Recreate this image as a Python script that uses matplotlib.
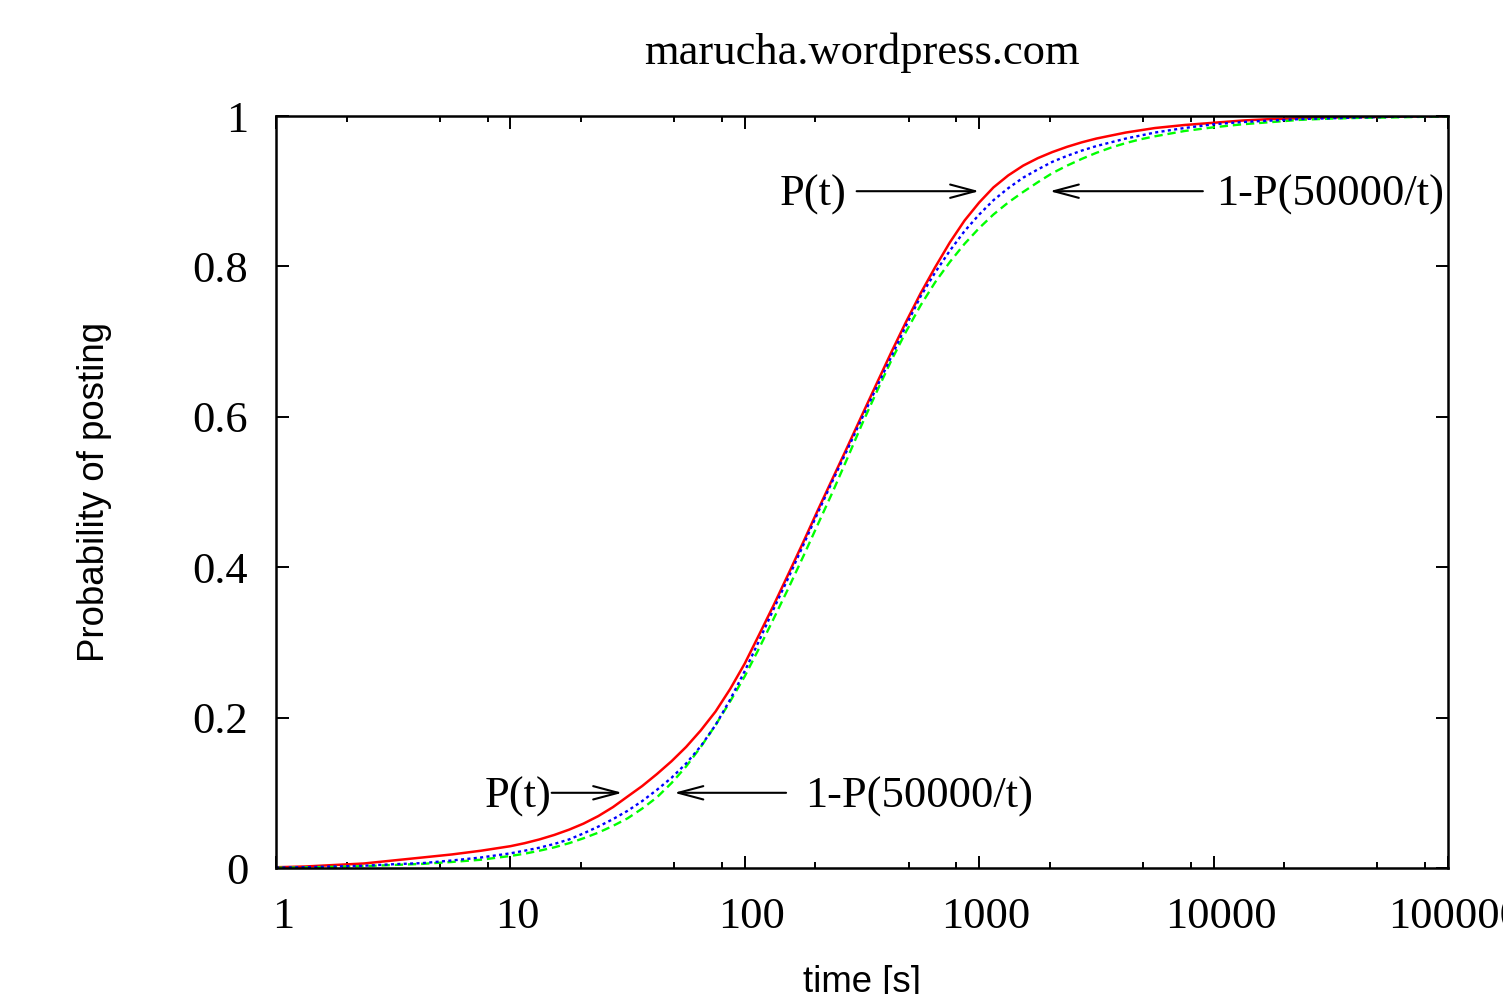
import matplotlib
matplotlib.use("Agg")
import matplotlib.pyplot as plt
import matplotlib.transforms as mtransforms
from matplotlib.ticker import FixedLocator, NullFormatter, NullLocator

# ---- data -------------------------------------------------------------
# sample times [s]
t_s = [1, 1.33, 1.78, 2.37, 3.16, 4.22, 5.62, 7.5,
       10, 11.5, 13.3, 15.4, 17.8, 20.5, 23.7, 27.4,
       31.6, 36.5, 42.2, 48.7, 56.2, 64.9, 75, 86.6,
       100, 115, 133, 154, 178, 205, 237, 274,
       316, 365, 422, 487, 562, 649, 750, 866,
       1000, 1150, 1330, 1540, 1780, 2050, 2370, 2740,
       3160, 3650, 4220, 4870, 5620,
       7500,
       10000, 13300, 17800, 23700, 31600, 42200, 56200, 75000, 100000]

# P(t)
p_red = [0.001, 0.002, 0.004, 0.006, 0.010, 0.014, 0.018, 0.023,
         0.029, 0.033, 0.038, 0.044, 0.051, 0.059, 0.069, 0.081,
         0.095, 0.109, 0.125, 0.142, 0.161, 0.183, 0.208, 0.238,
         0.272, 0.310, 0.350, 0.392, 0.434, 0.476, 0.518, 0.560,
         0.602, 0.644, 0.686, 0.726, 0.764, 0.799, 0.832, 0.861,
         0.885, 0.905, 0.921, 0.934, 0.944, 0.952, 0.959, 0.965,
         0.970, 0.974, 0.978, 0.981, 0.984,
         0.988,
         0.991, 0.994, 0.996, 0.997, 0.998, 0.9985, 0.999, 0.9995, 1.000]

# dotted curve
p_blue = [0.0005, 0.001, 0.002, 0.003, 0.005, 0.0065, 0.010, 0.014,
          0.0195, 0.023, 0.027, 0.032, 0.038, 0.046, 0.055, 0.065,
          0.076, 0.089, 0.104, 0.120, 0.139, 0.162, 0.190, 0.224,
          0.262, 0.302, 0.345, 0.387, 0.430, 0.4725, 0.515, 0.5565,
          0.598, 0.639, 0.680, 0.721, 0.760, 0.792, 0.821, 0.847,
          0.869, 0.888, 0.904, 0.918, 0.929, 0.939, 0.947, 0.954,
          0.960, 0.965, 0.970, 0.974, 0.978,
          0.984,
          0.989, 0.992, 0.994, 0.996, 0.997, 0.998, 0.9988, 0.9994, 1.000]

# 1-P(50000/t)
p_green = [0.0003, 0.0008, 0.0015, 0.0025, 0.004, 0.0055, 0.008, 0.011,
           0.016, 0.019, 0.023, 0.0275, 0.033, 0.0395, 0.047, 0.056,
           0.066, 0.079, 0.094, 0.113, 0.135, 0.161, 0.190, 0.2215,
           0.255, 0.292, 0.332, 0.373, 0.415, 0.457, 0.500, 0.545,
           0.590, 0.633, 0.675, 0.713, 0.748, 0.779, 0.806, 0.830,
           0.851, 0.869, 0.885, 0.899, 0.912, 0.924, 0.934, 0.943,
           0.951, 0.958, 0.964, 0.969, 0.973,
           0.980,
           0.985, 0.989, 0.992, 0.995, 0.9965, 0.9975, 0.998, 0.9988, 0.9993]

x_major = [1, 10, 100, 1000, 10000, 100000]
x_labels = ["1", "10", "100", "1000", "10000", "100000"]
x_minor = [m * 10 ** k for k in range(5) for m in (2, 5, 8)]
y_major = [0, 0.2, 0.4, 0.6, 0.8, 1.0]
y_labels = ["0", "0.2", "0.4", "0.6", "0.8", "1"]

# ---- figure -----------------------------------------------------------
DPI = 100
plt.rcParams["lines.scale_dashes"] = False
fig = plt.figure(figsize=(15.03, 9.94), dpi=DPI)
ax = fig.add_axes([276 / 1503, 1 - 868 / 994, (1448 - 276) / 1503, (868 - 116) / 994])

serif = ["Liberation Serif", "DejaVu Serif"]
sans = ["Liberation Sans", "DejaVu Sans"]
FS = 32

ax.plot(t_s, p_red, color="#ff0000", lw=1.8)
ax.plot(t_s, p_green, color="#00ff00", lw=1.7, dashes=(6, 3.5))
ax.plot(t_s, p_blue, color="#0000ff", lw=1.7, dashes=(2.2, 2.4))

ax.set_xscale("log")
ax.set_xlim(1, 100000)
ax.set_ylim(0, 1)

ax.xaxis.set_major_locator(FixedLocator(x_major))
ax.xaxis.set_minor_locator(FixedLocator(x_minor))
ax.xaxis.set_minor_formatter(NullFormatter())
ax.set_xticklabels(x_labels, family=serif, fontsize=FS)
ax.yaxis.set_major_locator(FixedLocator(y_major))
ax.yaxis.set_minor_locator(NullLocator())
ax.set_yticklabels(y_labels, family=serif, fontsize=FS)

ax.tick_params(which="both", direction="in", top=True, right=True, width=1.4)
ax.tick_params(which="major", length=9)
ax.tick_params(which="minor", length=4.5)
ax.tick_params(axis="x", which="major", pad=21)
ax.tick_params(axis="y", which="major", pad=20)

shift = mtransforms.ScaledTranslation(7 / DPI, 0, fig.dpi_scale_trans)
for lab in ax.get_xticklabels():
    lab.set_transform(lab.get_transform() + shift)

for sp in ax.spines.values():
    sp.set_linewidth(1.8)

# ---- labels -----------------------------------------------------------
fig.text(862 / 1503, 1 - 53 / 994, "marucha.wordpress.com", family=serif,
         fontsize=FS, ha="center", va="center")
fig.text(95 / 1503, 1 - 492 / 994, "Probability of posting", family=sans,
         fontsize=26.4, rotation=90, ha="center", va="center")
fig.text(862 / 1503, 1 - 982 / 994, "time [s]", family=sans,
         fontsize=26.4, ha="center", va="center")

# ---- annotations ------------------------------------------------------
arrow_kw = dict(arrowstyle="->,head_length=0.9,head_width=0.24",
                color="black", lw=1.5, mutation_scale=20,
                shrinkA=0, shrinkB=0)
down = mtransforms.ScaledTranslation(0, -4 / DPI, fig.dpi_scale_trans)


def arrow(x_from, x_to, y):
    ax.annotate("", xy=(x_to, y), xytext=(x_from, y), arrowprops=arrow_kw)


def label(x, y, s, ha):
    ax.text(x, y, s, family=serif, fontsize=FS, ha=ha, va="center",
            transform=ax.transData + down)


arrow(15, 30, 0.1)
label(15, 0.1, "P(t)", "right")
arrow(150, 50, 0.1)
label(180, 0.1, "1-P(50000/t)", "left")

arrow(300, 1000, 0.9)
label(272, 0.9, "P(t)", "right")
arrow(9000, 2000, 0.9)
label(10300, 0.9, "1-P(50000/t)", "left")

fig.savefig("out.png", dpi=DPI)
